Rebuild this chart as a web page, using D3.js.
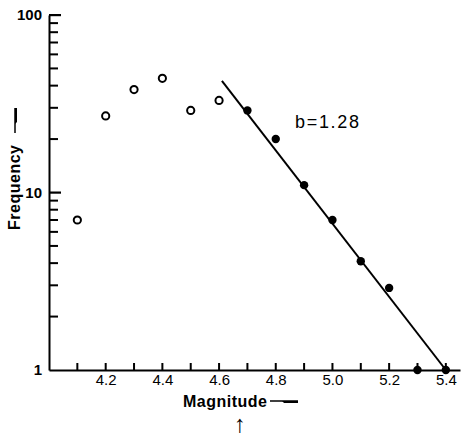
<!DOCTYPE html>
<html>
<head>
<meta charset="utf-8">
<script src="https://cdn.jsdelivr.net/npm/d3@7"></script>
<style>
  html, body { margin: 0; padding: 0; background: #fff; }
  svg { display: block; }
  text { font-family: "Liberation Sans", Arial, sans-serif; fill: #000; }
</style>
</head>
<body>
<svg id="chart" width="463" height="438"></svg>
<script>
// ---- data ----
const openMag = [4.1, 4.2, 4.3, 4.4, 4.5, 4.6];
const openFreq = [7, 27, 38, 44, 29, 33];
const filledMag = [4.7, 4.8, 4.9, 5.0, 5.1, 5.2, 5.3, 5.4];
const filledFreq = [29, 20, 11, 7, 4.1, 2.9, 1, 1];
const fitMag = [4.61, 5.4];
const fitFreq = [42.5, 1];
const xTickValues = [4.1, 4.2, 4.3, 4.4, 4.5, 4.6, 4.7, 4.8, 4.9, 5.0, 5.1, 5.2, 5.3, 5.4];
const xTickLabels = ["", "4.2", "", "4.4", "", "4.6", "", "4.8", "", "5.0", "", "5.2", "", "5.4"];
const yMajorTicks = [1, 10, 100];
const yMajorLabels = ["1", "10", "100"];
const yMinorTicks = [2, 3, 4, 5, 6, 7, 8, 9, 20, 30, 40, 50, 60, 70, 80, 90];

const svg = d3.select("#chart");
const x = d3.scaleLinear().domain([4.0, 5.45]).range([49, 460]);
const y = d3.scaleLog().domain([1, 100]).range([370, 15]);
const x0 = x(4.0), y0 = y(1);

// x axis (domain + labels)
const xAxis = svg.append("g")
  .attr("transform", `translate(0,${y0})`)
  .call(d3.axisBottom(x).tickValues(xTickValues).tickSize(0).tickPadding(4)
    .tickFormat((d, i) => xTickLabels[i]));
xAxis.select(".domain").attr("stroke", "#000").attr("stroke-width", 2);
xAxis.selectAll(".tick text").attr("font-size", 15).attr("fill", "#000")
  .attr("font-family", "Liberation Sans, Arial, sans-serif");

// y axis (domain + labels)
const yAxis = svg.append("g")
  .attr("transform", `translate(${x0},0)`)
  .call(d3.axisLeft(y).tickValues(yMajorTicks).tickSize(0).tickPadding(7)
    .tickFormat((d, i) => yMajorLabels[i]));
yAxis.select(".domain").attr("stroke", "#000").attr("stroke-width", 2);
yAxis.selectAll(".tick text").attr("font-size", 15).attr("font-weight", "bold").attr("fill", "#000")
  .attr("font-family", "Liberation Sans, Arial, sans-serif");

// x tick marks (pointing up)
svg.append("g").attr("class", "xticks").selectAll("rect")
  .data(xTickValues).join("rect")
  .attr("x", d => x(d) - 1).attr("y", y0 - 7)
  .attr("width", 2).attr("height", 7)
  .attr("fill", "#000");

// y tick marks (pointing right)
svg.append("g").attr("class", "ymajor").selectAll("rect")
  .data(yMajorTicks.filter(d => d > 1)).join("rect")
  .attr("x", x0).attr("y", d => y(d) - 1)
  .attr("width", 12).attr("height", 2.2)
  .attr("fill", "#000");
svg.append("g").attr("class", "yminor").selectAll("rect")
  .data(yMinorTicks).join("rect")
  .attr("x", x0).attr("y", d => y(d) - 1)
  .attr("width", 9).attr("height", 2)
  .attr("fill", "#000");

// fit line
const line = d3.line().x(d => x(d[0])).y(d => y(d[1]));
svg.append("path")
  .datum(fitMag.map((m, i) => [m, fitFreq[i]]))
  .attr("d", line)
  .attr("fill", "none").attr("stroke", "#000").attr("stroke-width", 2);

// open circles
svg.append("g").selectAll("circle")
  .data(openMag.map((m, i) => [m, openFreq[i]]))
  .join("circle")
  .attr("cx", d => x(d[0])).attr("cy", d => y(d[1])).attr("r", 3.6)
  .attr("fill", "#fff").attr("stroke", "#000").attr("stroke-width", 2);

// filled dots
svg.append("g").selectAll("circle")
  .data(filledMag.map((m, i) => [m, filledFreq[i]]))
  .join("circle")
  .attr("cx", d => x(d[0])).attr("cy", d => y(d[1])).attr("r", 4.2)
  .attr("fill", "#000");

// annotation
svg.append("text").attr("x", 295).attr("y", 128)
  .attr("font-size", 18).attr("textLength", 64).attr("lengthAdjust", "spacing")
  .text("b=1.28");

// x label
svg.append("text").attr("x", 183).attr("y", 407)
  .attr("font-size", 16).attr("font-weight", "bold").attr("textLength", 84).attr("lengthAdjust", "spacing")
  .text("Magnitude");
svg.append("path").attr("d", "M270,401 L298,401").attr("stroke", "#000").attr("stroke-width", 1.5);
svg.append("path").attr("d", "M282,401 L298,401 L298,403 L284,403 Z").attr("fill", "#000");
svg.append("text").attr("x", 240).attr("y", 432).attr("text-anchor", "middle")
  .attr("font-size", 24).attr("fill", "#000").attr("font-family", "DejaVu Sans, sans-serif").text("↑");

// y label
svg.append("text").attr("transform", "translate(20,230) rotate(-90)")
  .attr("font-size", 16).attr("font-weight", "bold").attr("textLength", 85).attr("lengthAdjust", "spacing")
  .text("Frequency");
svg.append("path").attr("d", "M15,133 L15,108").attr("stroke", "#000").attr("stroke-width", 1.5);
svg.append("path").attr("d", "M15,108 L15,124 L17,122 L17,108 Z").attr("fill", "#000");
</script>
</body>
</html>
